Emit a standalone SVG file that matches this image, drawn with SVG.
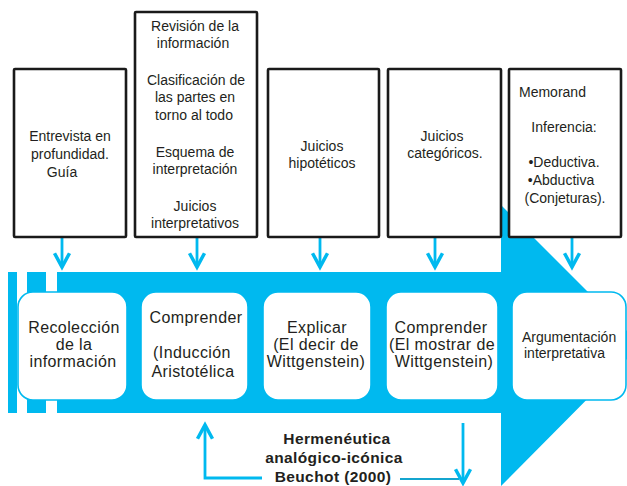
<svg xmlns="http://www.w3.org/2000/svg" width="627" height="486" viewBox="0 0 627 486">
<defs>
<style>
.t{font-family:"Liberation Sans",Arial,sans-serif;font-size:14px;fill:#231f20;text-anchor:middle}
.tl{font-family:"Liberation Sans",Arial,sans-serif;font-size:16px;fill:#231f20;text-anchor:middle;letter-spacing:0.4px}
.tb{font-family:"Liberation Sans",Arial,sans-serif;font-size:15.5px;font-weight:bold;fill:#231f20;text-anchor:middle;letter-spacing:0.4px}
.top{fill:#fff;stroke:#1a1a1a;stroke-width:2.6}
.low{fill:#fff;stroke:#00B9EF;stroke-width:1.6}
.blue{fill:#00B9EF}
.con{fill:none;stroke:#00B9EF;stroke-width:2.8}
</style>
<marker id="ah" markerUnits="userSpaceOnUse" markerWidth="20" markerHeight="20" viewBox="-14 -8 16 16" refX="0" refY="0" orient="auto" overflow="visible">
<path d="M-11,-6 L0,0 L-11,6" fill="none" stroke="#00B9EF" stroke-width="2.8"/>
</marker>
</defs>

<g id="big-arrow">
<rect class="blue" x="8" y="272" width="9" height="141"/>
<rect class="blue" x="27" y="272" width="19" height="141"/>
<path class="blue" d="M57,272 H501 V205 L641,345 L501,486 V413 H57 Z"/>
</g>

<g id="connectors">
<line class="con" x1="62" y1="238" x2="62" y2="267" marker-end="url(#ah)"/>
<line class="con" x1="197" y1="238" x2="197" y2="267" marker-end="url(#ah)"/>
<line class="con" x1="320" y1="238" x2="320" y2="267" marker-end="url(#ah)"/>
<line class="con" x1="435" y1="238" x2="435" y2="267" marker-end="url(#ah)"/>
<line class="con" x1="572" y1="238" x2="572" y2="267" marker-end="url(#ah)"/>
<polyline class="con" points="262,478 205,478 205,425" marker-end="url(#ah)"/>
<line x1="400" y1="479" x2="459" y2="479" stroke="#14a5cf" stroke-width="2.2"/>
<line class="con" x1="463" y1="423" x2="463" y2="483" marker-end="url(#ah)"/>
</g>

<g id="box-entrevista">
<rect class="top" x="14" y="69" width="112" height="168" rx="1"/>
<text class="t" x="70" y="141">Entrevista en</text>
<text class="t" x="70" y="159">profundidad.</text>
<text class="t" x="62" y="177">Guía</text>
</g>

<g id="box-revision">
<rect class="top" x="135" y="12" width="122" height="225" rx="1"/>
<text class="t" x="195" y="31">Revisión de la</text>
<text class="t" x="193" y="48">información</text>
<text class="t" x="196" y="85">Clasificación de</text>
<text class="t" x="195" y="102">las partes en</text>
<text class="t" x="194" y="120">torno al todo</text>
<text class="t" x="195" y="157">Esquema de</text>
<text class="t" x="195" y="174">interpretación</text>
<text class="t" x="195" y="211">Juicios</text>
<text class="t" x="195" y="228">interpretativos</text>
</g>

<g id="box-hipoteticos">
<rect class="top" x="268" y="69" width="111" height="168" rx="1"/>
<text class="t" x="322" y="151">Juicios</text>
<text class="t" x="322" y="168">hipotéticos</text>
</g>

<g id="box-categoricos">
<rect class="top" x="388" y="69" width="113" height="168" rx="1"/>
<text class="t" x="442" y="141">Juicios</text>
<text class="t" x="445" y="158">categóricos.</text>
</g>

<g id="box-memorand">
<rect class="top" x="509" y="69" width="112" height="168" rx="1"/>
<text class="t" x="519" y="97" style="text-anchor:start">Memorand</text>
<text class="t" x="564" y="132">Inferencia:</text>
<text class="t" x="564" y="167">•Deductiva.</text>
<text class="t" x="561" y="185">•Abductiva</text>
<text class="t" x="565" y="203">(Conjeturas).</text>
</g>

<g id="node-recoleccion">
<rect class="low" x="18" y="292" width="109" height="108" rx="15"/>
<text class="tl" x="74" y="333">Recolección</text>
<text class="tl" x="74" y="350">de la</text>
<text class="tl" x="73" y="367">información</text>
</g>

<g id="node-comprender1">
<rect class="low" x="141" y="292" width="107" height="108" rx="15"/>
<text class="tl" x="196" y="323">Comprender</text>
<text class="tl" x="192" y="358">(Inducción</text>
<text class="tl" x="193" y="377">Aristotélica</text>
</g>

<g id="node-explicar">
<rect class="low" x="263" y="292" width="108" height="108" rx="15"/>
<text class="tl" x="317" y="333">Explicar</text>
<text class="tl" x="316" y="350">(El decir de</text>
<text class="tl" x="316" y="367">Wittgenstein)</text>
</g>

<g id="node-comprender2">
<rect class="low" x="386" y="292" width="112" height="108" rx="15"/>
<text class="tl" x="441" y="333">Comprender</text>
<text class="tl" x="442" y="350">(El mostrar de</text>
<text class="tl" x="444" y="367">Wittgenstein)</text>
</g>

<g id="node-argumentacion">
<rect class="low" x="512" y="292" width="114" height="108" rx="15"/>
<text class="t" x="522" y="342" style="text-anchor:start">Argumentación</text>
<text class="t" x="524" y="358" style="text-anchor:start">interpretativa</text>
</g>

<g id="label-hermeneutica">
<text class="tb" x="337" y="444">Hermenéutica</text>
<text class="tb" x="334" y="463">analógico-icónica</text>
<text class="tb" x="333" y="482">Beuchot (2000)</text>
</g>
</svg>
